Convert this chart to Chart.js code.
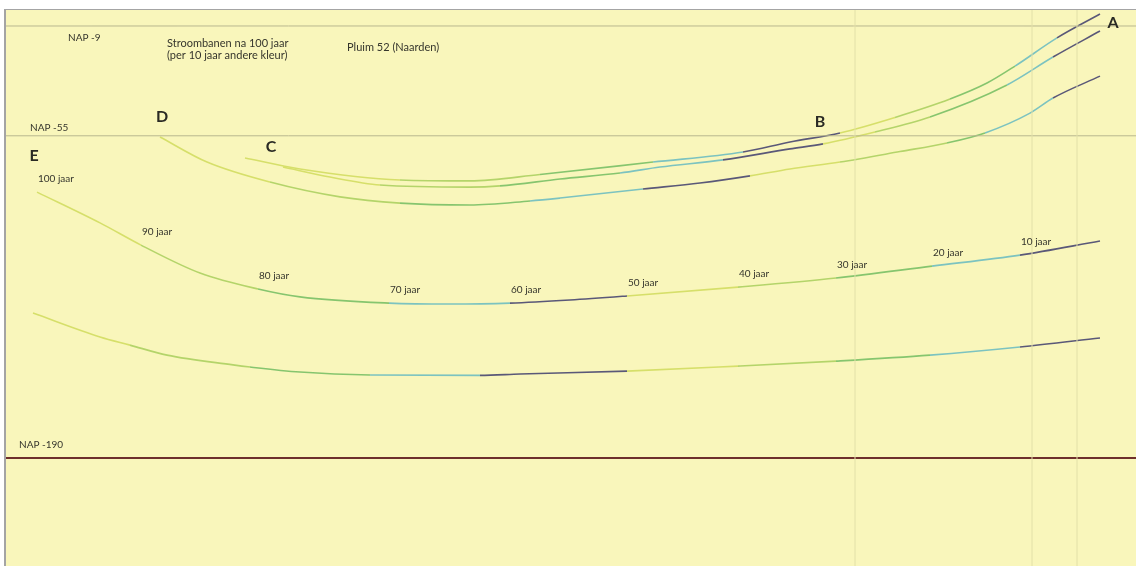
<!DOCTYPE html>
<html lang="nl">
<head>
<meta charset="UTF-8">
<title>Pluim 52 (Naarden) - stroombanen</title>
<style>
  html, body { margin: 0; padding: 0; background: #fff; }
  #vlak {
    position: absolute;
    left: 4px;
    top: 9px;
    width: 1130px;
    height: 556px;
    background: #f9f6bb;
    border-left: 2px solid #a4a4a4;
    border-top: 1px solid #a4a4a4;
  }
  canvas { display: block; }
</style>
</head>
<body>
<div id="vlak"><canvas id="lienzo" width="1130" height="556"></canvas></div>

<script src="https://cdn.jsdelivr.net/npm/chart.js"></script>
<script>
// stroombanen: horizontale afstand (willekeurige eenheid), diepte in m t.o.v. NAP, reistijd in jaren
const baan1X = [245, 300, 400, 470, 540, 653, 743, 790, 840, 895, 950, 987, 1015, 1057, 1100];
const baan1Nap = [-64.3, -68.9, -73.5, -73.9, -71.2, -66.0, -61.8, -57.6, -53.8, -47.3, -39.6, -32.9, -25.8, -14.0, -4.0];
const baan1Jaar = [100, 95, 90, 85, 80, 70, 60, 55, 50, 40, 30, 25, 20, 10, 0];

const baan2X = [283, 330, 380, 470, 500, 560, 620, 660, 723, 790, 823, 875, 930, 1007, 1053, 1100];
const baan2Nap = [-68.1, -72.3, -75.6, -76.5, -76.0, -73.1, -70.6, -68.1, -65.1, -60.5, -58.4, -53.4, -47.1, -33.7, -22.0, -11.1];
const baan2Jaar = [100, 95, 90, 85, 80, 75, 70, 65, 60, 55, 50, 40, 30, 20, 10, 0];

const baan3X = [160, 207, 270, 340, 400, 470, 530, 560, 643, 700, 750, 790, 840, 900, 947, 985, 1030, 1053, 1100];
const baan3Nap = [-55.5, -66.0, -74.4, -80.6, -83.2, -84.0, -82.3, -81.1, -77.3, -74.8, -71.8, -68.9, -66.0, -61.6, -58.0, -53.8, -45.5, -39.2, -30.0];
const baan3Jaar = [100, 95, 90, 85, 80, 75, 70, 68, 60, 55, 50, 47, 40, 35, 30, 20, 15, 10, 0];

const baan4X = [37, 100, 141, 200, 258, 300, 389, 450, 510, 570, 627, 738, 836, 932, 1020, 1100];
const baan4Nap = [-78.6, -91.5, -100.8, -112.5, -119.2, -122.5, -125.1, -125.5, -125.1, -123.8, -122.1, -118.4, -114.6, -109.6, -105.0, -99.1];
const baan4Jaar = [100, 95, 90, 85, 80, 75, 70, 65, 60, 55, 50, 40, 30, 20, 10, 0];

const baan5X = [33, 100, 130, 167, 233, 250, 300, 370, 480, 520, 627, 738, 836, 930, 1020, 1100];
const baan5Nap = [-129.3, -139.3, -142.7, -146.9, -151.0, -151.9, -154.0, -155.2, -155.4, -154.8, -153.6, -151.5, -149.4, -146.9, -143.5, -139.7];
const baan5Jaar = [100, 93, 90, 86, 81, 80, 76, 70, 60, 57, 50, 40, 30, 20, 10, 0];

// jaarmarkeringen langs de middelste stroombaan
const jaarMarkeringen = [100, 90, 80, 70, 60, 50, 40, 30, 20, 10];

// NAP-niveaus en hulplijnen
const napNiveaus = [-9, -55, -190];
const napTeksten = ['NAP -9', 'NAP -55', 'NAP -190'];
const hulplijnenX = [855, 1032, 1077];

// per 10 jaar een andere kleur (van 0-10 jaar oplopend)
const kleuren = ['#5a5878', '#7cc3c0', '#86c56e', '#b4d46a', '#d6df6a'];

const X_MIN = 6, X_MAX = 1136;
const Y_MIN = -235.25, Y_MAX = -2.3;

function baan(xs, naps, jaren) {
  const punten = xs.map((x, i) => ({ x: x, y: naps[i], jaar: jaren[i] }));
  return {
    data: punten,
    borderWidth: 1.6,
    pointRadius: 0,
    cubicInterpolationMode: 'monotone',
    segment: {
      borderColor: (ctx) => {
        const j = Math.min(punten[ctx.p0DataIndex].jaar, punten[ctx.p1DataIndex].jaar);
        return kleuren[Math.floor(j / 10) % 5];
      }
    }
  };
}

function horizontaal(nap, kleur, dikte) {
  return {
    data: [{ x: X_MIN, y: nap }, { x: X_MAX, y: nap }],
    borderColor: kleur,
    borderWidth: dikte,
    pointRadius: 0
  };
}

function verticaal(x) {
  return {
    data: [{ x: x, y: Y_MIN }, { x: x, y: Y_MAX }],
    borderColor: '#e2e0a8',
    borderWidth: 1,
    pointRadius: 0
  };
}

const datasets = [
  ...hulplijnenX.map(verticaal),
  horizontaal(napNiveaus[0], '#b9b78f', 1),
  horizontaal(napNiveaus[1], '#b9b78f', 1),
  horizontaal(napNiveaus[2], '#6e2f2c', 2),
  baan(baan1X, baan1Nap, baan1Jaar),
  baan(baan2X, baan2Nap, baan2Jaar),
  baan(baan3X, baan3Nap, baan3Jaar),
  baan(baan4X, baan4Nap, baan4Jaar),
  baan(baan5X, baan5Nap, baan5Jaar)
];

// plek van de NAP-teksten t.o.v. hun lijn
const napTekstPlek = [{ x: 68, dy: 12 }, { x: 30, dy: -8 }, { x: 19, dy: -13 }];

const losseTeksten = [
  { t: 'Stroombanen na 100 jaar', x: 161, y: 33 },
  { t: '(per 10 jaar andere kleur)', x: 161, y: 45 },
  { t: 'Pluim 52 (Naarden)', x: 341, y: 37 }
];

const letters = [
  { t: 'A', x: 1107, y: 13 },
  { t: 'B', x: 814, y: 112 },
  { t: 'C', x: 265, y: 137 },
  { t: 'D', x: 156, y: 107 },
  { t: 'E', x: 28, y: 146 }
];

const tekstPlugin = {
  id: 'teksten',
  afterDatasetsDraw(chart) {
    const c = chart.ctx;
    const sx = chart.scales.x, sy = chart.scales.y;
    c.save();
    c.fillStyle = '#35352c';
    c.textBaseline = 'middle';
    c.textAlign = 'left';
    c.font = '10px Lato';

    napNiveaus.forEach((nap, i) => {
      const p = napTekstPlek[i];
      c.fillText(napTeksten[i], sx.getPixelForValue(p.x), sy.getPixelForValue(nap) + p.dy);
    });

    // jaartallen boven de middelste baan
    jaarMarkeringen.forEach((j) => {
      const i = baan4Jaar.indexOf(j);
      c.fillText(j + ' jaar', sx.getPixelForValue(baan4X[i]) + 1, sy.getPixelForValue(baan4Nap[i]) - 13);
    });

    c.font = '11px Lato';
    losseTeksten.forEach((t) => c.fillText(t.t, t.x, t.y));

    c.font = 'bold 16px Lato';
    c.textAlign = 'center';
    c.fillStyle = '#2a2a24';
    letters.forEach((l) => c.fillText(l.t, l.x, l.y));
    c.restore();
  }
};

new Chart(document.querySelector('#lienzo'), {
  type: 'line',
  data: { datasets: datasets },
  options: {
    responsive: false,
    animation: false,
    events: [],
    layout: { padding: 0 },
    plugins: { legend: { display: false }, tooltip: { enabled: false } },
    scales: {
      x: { type: 'linear', min: X_MIN, max: X_MAX, display: false },
      y: { type: 'linear', min: Y_MIN, max: Y_MAX, display: false }
    }
  },
  plugins: [tekstPlugin]
});
</script>
</body>
</html>
